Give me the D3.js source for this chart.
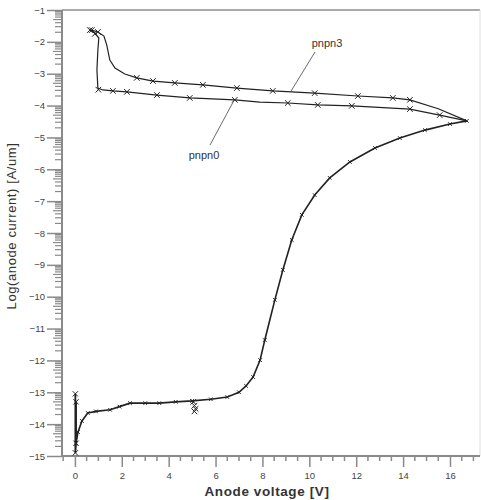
<!DOCTYPE html>
<html><head><meta charset="utf-8">
<script src="https://cdn.jsdelivr.net/npm/d3@7"></script>
<style>body{margin:0;background:#fff}svg{display:block}</style>
</head><body><svg id="c" width="481" height="500"></svg>
<script>
// ---- data (V, log10 I) ----
const xTicks = [0,2,4,6,8,10,12,14,16];
const yTicks = [-1,-2,-3,-4,-5,-6,-7,-8,-9,-10,-11,-12,-13,-14,-15];
const sCurveV = [0.05,0.13,0.3,0.55,0.9,1.5,1.9,2.35,3.0,3.6,4.3,5.0,5.8,6.5,7.0,7.3,7.6,7.9,8.1,8.53,8.87,9.25,9.68,10.23,10.87,11.73,12.8,13.86,14.93,16.0,16.72];
const sCurveY = [-14.6,-14.25,-13.9,-13.65,-13.6,-13.55,-13.45,-13.34,-13.34,-13.34,-13.3,-13.27,-13.22,-13.15,-13.0,-12.8,-12.52,-11.99,-11.36,-10.1,-9.16,-8.22,-7.43,-6.81,-6.27,-5.77,-5.33,-5.02,-4.77,-4.58,-4.48];
const spikeV = [0.02,0.02,0.05,0.05];
const spikeY = [-13.05,-14.9,-14.6,-13.3];
const clusterV = [5.05,5.1,5.15,5.1];
const clusterY = [-13.3,-13.42,-13.52,-13.6];
const pnpn3V = [16.72,15.5,14.29,13.56,12.07,10.23,8.44,6.91,5.46,4.26,3.33,2.64,2.13,1.71,1.49,1.36,1.24,0.98,0.72];
const pnpn3Y = [-4.48,-4.1,-3.82,-3.76,-3.70,-3.61,-3.54,-3.45,-3.35,-3.29,-3.23,-3.13,-3.01,-2.82,-2.57,-2.10,-1.82,-1.69,-1.63];
const pnpn3MarkV = [14.29,13.56,12.07,10.23,8.44,6.91,5.46,4.26,3.33,2.64,0.98,0.72,0.85];
const pnpn3MarkY = [-3.82,-3.76,-3.70,-3.61,-3.54,-3.45,-3.35,-3.29,-3.23,-3.13,-1.69,-1.63,-1.75];
const pnpn0V = [16.72,15.56,14.29,11.81,10.36,9.08,7.89,6.82,4.90,3.50,2.22,1.62,1.19,0.98,0.94,0.98,1.02,0.85,0.64];
const pnpn0Y = [-4.48,-4.30,-4.11,-4.01,-3.98,-3.92,-3.89,-3.82,-3.76,-3.67,-3.57,-3.54,-3.51,-3.45,-2.88,-2.26,-1.88,-1.72,-1.63];
const pnpn0MarkV = [15.56,14.29,11.81,10.36,9.08,6.82,4.90,3.50,2.22,1.62,1.0,0.64];
const pnpn0MarkY = [-4.30,-4.11,-4.01,-3.98,-3.92,-3.82,-3.76,-3.67,-3.57,-3.54,-3.5,-1.63];
const seriesLabels = ["pnpn3","pnpn0"];

const svg = d3.select("#c");
const x = d3.scaleLinear().domain([-0.55,17.28]).range([62,480]);
const y = d3.scaleLinear().domain([-15,-1]).range([456,10]);
const axisCol = "#8a8a8a", txtCol = "#444";

// frame
svg.append("line").attr("x1",62).attr("x2",480).attr("y1",y(-1)).attr("y2",y(-1)).attr("stroke","#aaa").attr("stroke-width",2);
svg.append("line").attr("x1",480).attr("x2",480).attr("y1",y(-1)).attr("y2",y(-15)).attr("stroke","#ddd").attr("stroke-width",1);

// x axis
const xMinor = d3.range(-0.5,17.01,0.5).filter(v=>Math.abs(v/2-Math.round(v/2))>1e-6);
const gx = svg.append("g").attr("transform",`translate(0,${y(-15)})`);
gx.call(d3.axisBottom(x).tickValues(xTicks).tickSize(11).tickFormat(d3.format("d")));
gx.selectAll(".tick line").attr("stroke",axisCol).attr("stroke-width",1.5);
gx.selectAll(".tick text").attr("fill",txtCol).attr("font-family","Liberation Sans, Arial").attr("font-size",9.5).attr("dy","0.9em");
gx.select(".domain").attr("stroke",axisCol).attr("stroke-width",2).attr("d",`M62,0H480`);
gx.selectAll(".mx").data(xMinor).join("line").attr("class","mx")
  .attr("x1",d=>x(d)).attr("x2",d=>x(d)).attr("y1",0).attr("y2",5).attr("stroke",axisCol).attr("stroke-width",1.5);

// y axis
const yMinor = [];
for (let n=-15;n<-1;n++) for (let k=2;k<=9;k++) yMinor.push({v:n+Math.log10(k),k});
const gy = svg.append("g").attr("transform",`translate(62,0)`);
gy.call(d3.axisLeft(y).tickValues(yTicks).tickSize(15).tickFormat(d3.format("d")));
gy.selectAll(".tick line").attr("stroke",axisCol).attr("stroke-width",1.5);
gy.selectAll(".tick text").attr("fill",txtCol).attr("font-family","Liberation Sans, Arial").attr("font-size",9.5).attr("x",-17);
gy.select(".domain").attr("stroke",axisCol).attr("stroke-width",2).attr("d",`M0,${y(-15)}V${y(-1)}`);
gy.selectAll(".my").data(yMinor).join("line").attr("class","my")
  .attr("x1",d=>d.k===5?-9:-7).attr("x2",0).attr("y1",d=>y(d.v)).attr("y2",d=>y(d.v)).attr("stroke",axisCol).attr("stroke-width",1.2);

// axis titles
svg.append("text").attr("x",267).attr("y",496).attr("text-anchor","middle")
  .attr("font-family","Liberation Sans, Arial").attr("font-weight","bold").attr("font-size",13.5).attr("fill","#333").attr("letter-spacing",0.6)
  .text("Anode voltage [V]");
svg.append("text").attr("transform","translate(16,226) rotate(-90)").attr("text-anchor","middle")
  .attr("font-family","Liberation Sans, Arial").attr("font-size",13).attr("fill","#333").attr("letter-spacing",0.6)
  .text("Log(anode current) [A/um]");

// curves
const line = d3.line().x(d=>x(d[0])).y(d=>y(d[1]));
const zip = (a,b)=>a.map((v,i)=>[v,b[i]]);
const lineCol = "#222";
svg.append("path").attr("d",line(zip(sCurveV,sCurveY)).toString()).attr("fill","none").attr("stroke",lineCol).attr("stroke-width",1.6);
svg.append("path").attr("d",line(zip(spikeV,spikeY))).attr("fill","none").attr("stroke",lineCol).attr("stroke-width",1.8);
svg.append("path").attr("d",line(zip(pnpn3V,pnpn3Y))).attr("fill","none").attr("stroke",lineCol).attr("stroke-width",1.2);
svg.append("path").attr("d",line(zip(pnpn0V,pnpn0Y))).attr("fill","none").attr("stroke",lineCol).attr("stroke-width",1.2);

const sym = d3.symbol().type(d3.symbolTimes);
function marks(V,Y,s){
  svg.append("g").selectAll("path").data(zip(V,Y)).join("path")
    .attr("transform",d=>`translate(${x(d[0])},${y(d[1])})`).attr("d",sym.size(s)()).attr("fill","none").attr("stroke",lineCol).attr("stroke-width",1);
}
marks(sCurveV,sCurveY,10);
marks(spikeV,spikeY,20);
marks(clusterV,clusterY,22);
marks(pnpn3MarkV,pnpn3MarkY,22);
marks(pnpn0MarkV,pnpn0MarkY,22);

// series labels with leaders
svg.append("line").attr("x1",315).attr("y1",52).attr("x2",x(9.2)).attr("y2",y(-3.57)).attr("stroke","#444").attr("stroke-width",0.8);
svg.append("line").attr("x1",210).attr("y1",145).attr("x2",x(6.8)).attr("y2",y(-3.82)).attr("stroke","#444").attr("stroke-width",0.8);
svg.append("text").attr("x",327).attr("y",47).attr("text-anchor","middle").attr("font-family","Liberation Sans, Arial").attr("font-size",11).attr("fill","#333").text(seriesLabels[0]);
svg.append("text").attr("x",204).attr("y",159).attr("text-anchor","middle").attr("font-family","Liberation Sans, Arial").attr("font-size",11).attr("fill","#333").text(seriesLabels[1]);
</script></body></html>
